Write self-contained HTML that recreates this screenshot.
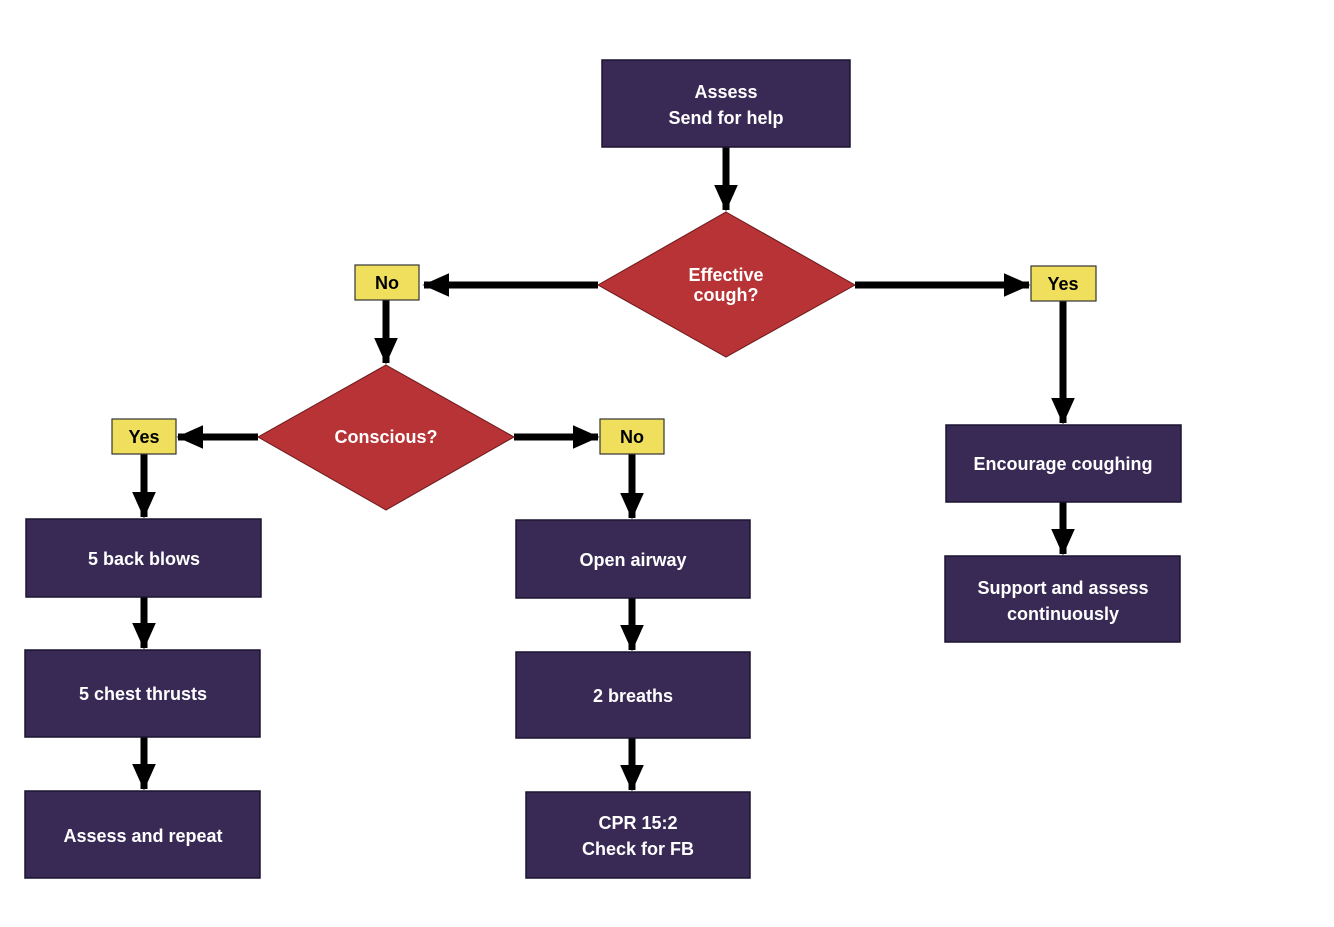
<!DOCTYPE html>
<html><head><style>
html,body{margin:0;padding:0;background:#fff;}
svg{display:block;}
text{font-family:"Liberation Sans",sans-serif;font-weight:bold;}
</style></head><body>
<svg width="1334" height="927" viewBox="0 0 1334 927" xmlns="http://www.w3.org/2000/svg">
<defs>
<marker id="ah" markerWidth="4" markerHeight="4" refX="3.6" refY="2" orient="auto" markerUnits="strokeWidth">
<path d="M0,0.3 L3.8,2 L0,3.7 Z" fill="#000"/>
</marker>
</defs>
<g stroke="#000" stroke-width="7" fill="none" marker-end="url(#ah)">
<line x1="726" y1="147" x2="726" y2="210"/>
<line x1="598" y1="285" x2="424" y2="285"/>
<line x1="855" y1="285" x2="1029" y2="285"/>
<line x1="386" y1="300" x2="386" y2="363"/>
<line x1="258" y1="437" x2="178" y2="437"/>
<line x1="514" y1="437" x2="598" y2="437"/>
<line x1="144" y1="454" x2="144" y2="517"/>
<line x1="144" y1="597" x2="144" y2="648"/>
<line x1="144" y1="737" x2="144" y2="789"/>
<line x1="632" y1="454" x2="632" y2="518"/>
<line x1="632" y1="598" x2="632" y2="650"/>
<line x1="632" y1="738" x2="632" y2="790"/>
<line x1="1063" y1="301" x2="1063" y2="423"/>
<line x1="1063" y1="502" x2="1063" y2="554"/>
</g>
<g fill="#392a55" stroke="#1c1430" stroke-width="1.5">
<rect x="602" y="60" width="248" height="87"/>
<rect x="26" y="519" width="235" height="78"/>
<rect x="25" y="650" width="235" height="87"/>
<rect x="25" y="791" width="235" height="87"/>
<rect x="516" y="520" width="234" height="78"/>
<rect x="516" y="652" width="234" height="86"/>
<rect x="526" y="792" width="224" height="86"/>
<rect x="946" y="425" width="235" height="77"/>
<rect x="945" y="556" width="235" height="86"/>
</g>
<g fill="#b73335" stroke="#6a1a1c" stroke-width="1">
<polygon points="726,212 855,285 726,357 598,285"/>
<polygon points="386,365 514,437 386,510 258,437"/>
</g>
<g fill="#f0df5c" stroke="#333" stroke-width="1.2">
<rect x="355" y="265" width="64" height="35"/>
<rect x="1031" y="266" width="65" height="35"/>
<rect x="112" y="419" width="64" height="35"/>
<rect x="600" y="419" width="64" height="35"/>
</g>
<g fill="#000" font-size="18" text-anchor="middle">
<text x="387" y="289">No</text>
<text x="1063" y="290">Yes</text>
<text x="144" y="443">Yes</text>
<text x="632" y="443">No</text>
</g>
<g fill="#fff" font-size="18" text-anchor="middle">
<text x="726" y="98">Assess</text>
<text x="726" y="124">Send for help</text>
<text x="726" y="281">Effective</text>
<text x="726" y="301">cough?</text>
<text x="386" y="443">Conscious?</text>
<text x="144" y="565">5 back blows</text>
<text x="143" y="700">5 chest thrusts</text>
<text x="143" y="842">Assess and repeat</text>
<text x="633" y="566">Open airway</text>
<text x="633" y="702">2 breaths</text>
<text x="638" y="829">CPR 15:2</text>
<text x="638" y="855">Check for FB</text>
<text x="1063" y="470">Encourage coughing</text>
<text x="1063" y="594">Support and assess</text>
<text x="1063" y="620">continuously</text>
</g>
</svg>
</body></html>
